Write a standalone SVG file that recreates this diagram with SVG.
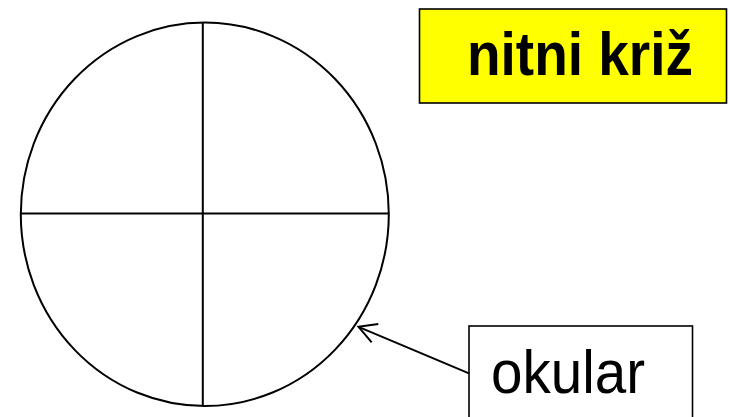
<svg xmlns="http://www.w3.org/2000/svg" width="729" height="417" viewBox="0 0 729 417">
<style>
.ln{fill:none;stroke:#000;stroke-width:2}
.box{stroke:#000;stroke-width:1.6}
.t{font-family:"Liberation Sans",Arial,sans-serif;fill:#000}
</style>
<rect width="729" height="417" fill="#fff"/>
<g id="okular-circle">
<ellipse class="ln" cx="204.8" cy="214.3" rx="184" ry="191.7"/>
<line class="ln" x1="202.8" y1="22.6" x2="202.8" y2="406"/>
<line class="ln" x1="20.8" y1="213.5" x2="388.8" y2="213.5"/>
</g>
<g id="nitni-kriz">
<rect class="box" x="419.5" y="9" width="307" height="94" fill="#ffff00"/>
<text class="t" x="467" y="75" font-size="62" font-weight="bold" textLength="226" lengthAdjust="spacingAndGlyphs">nitni križ</text>
</g>
<g id="okular">
<rect class="box" x="469" y="326" width="223.5" height="100" fill="#fff"/>
<text class="t" x="491" y="393" font-size="62" textLength="154" lengthAdjust="spacingAndGlyphs">okular</text>
</g>
<g id="connectors">
<line class="ln" x1="469" y1="373.3" x2="358.5" y2="326.8" stroke-width="2.4"/>
<polyline class="ln" points="378.3,324 358.5,326.8 371.7,342.3" stroke-width="2.4"/>
</g>
</svg>
